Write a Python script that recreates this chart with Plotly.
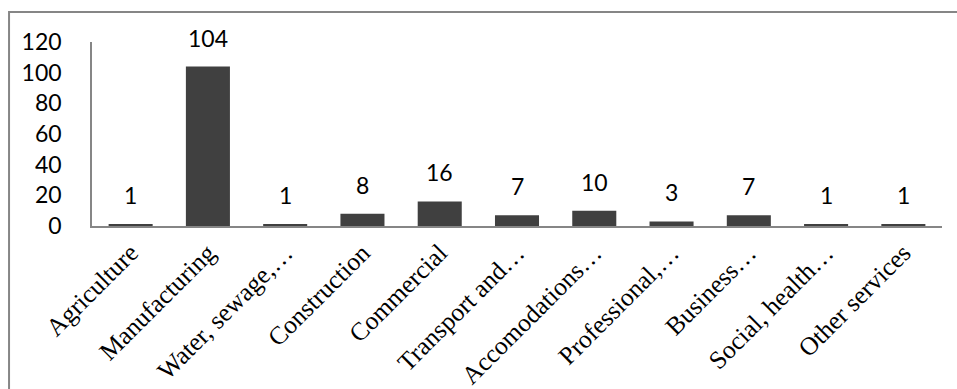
import plotly.graph_objects as go

categories = ["Agriculture", "Manufacturing", "Water, sewage,…", "Construction", "Commercial",
              "Transport and…", "Accomodations…", "Professional,…", "Business…",
              "Social, health…", "Other services"]
values = [1, 104, 1, 8, 16, 7, 10, 3, 7, 1, 1]
y_ticks = [0, 20, 40, 60, 80, 100, 120]

fig = go.Figure()
fig.add_trace(go.Bar(
    x=categories, y=values,
    marker=dict(color="#404040", line=dict(width=0)),
    width=0.57,
    hoverinfo="skip",
))

for c, v in zip(categories, values):
    fig.add_annotation(x=c, y=v, text=str(v), showarrow=False, yanchor="bottom",
                       yshift=13, font=dict(family="Lato", size=23, color="#000000"))

fig.update_layout(
    width=957, height=389,
    margin=dict(l=92, r=15, t=42, b=163),
    paper_bgcolor="white", plot_bgcolor="white",
    showlegend=False,
    xaxis=dict(
        tickangle=-45,
        tickfont=dict(family="Liberation Serif", size=25.5, color="#000000"),
        showline=True, linecolor="#868686", linewidth=1.5,
        ticks="", showgrid=False, zeroline=False,
        automargin=False,
    ),
    yaxis=dict(
        range=[0, 120], tickvals=y_ticks,
        tickfont=dict(family="Lato", size=23, color="#000000"),
        showline=True, linecolor="#868686", linewidth=1.5,
        ticks="", showgrid=False, zeroline=False,
        ticklabelstandoff=24, automargin=False,
    ),
    shapes=[dict(type="rect", xref="paper", yref="paper",
                 x0=-0.0976, x1=1.04, y0=-0.95, y1=1.163,
                 line=dict(color="#868686", width=2))],
)

fig.write_html("out.html")
